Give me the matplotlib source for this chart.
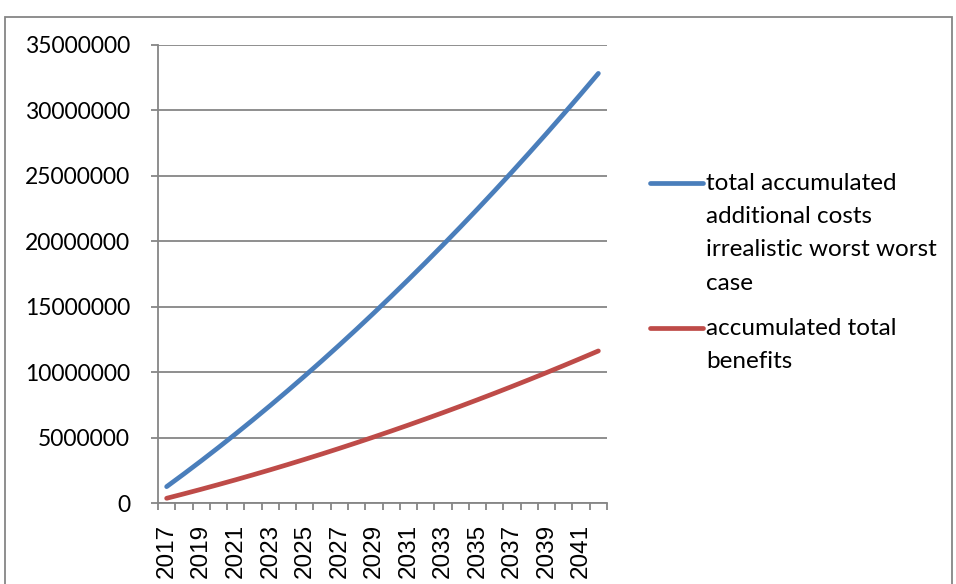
import matplotlib
matplotlib.use("Agg")
import matplotlib.pyplot as plt
from matplotlib.lines import Line2D
from matplotlib.patches import Rectangle
from matplotlib.ticker import FuncFormatter, FixedLocator

years = list(range(2017, 2043))
costs = [1250000, 2223000, 3220000, 4242000, 5287000, 6357000, 7451000, 8570000,
         9712000, 10879000, 12069000, 13284000, 14523000, 15786000, 17073000, 18384000,
         19720000, 21080000, 22464000, 23872000, 25304000, 26761000, 28242000, 29747000,
         31276000, 32830000]
benefits = [360000, 700000, 1049000, 1408000, 1775000, 2152000, 2538000, 2933000,
            3338000, 3751000, 4174000, 4606000, 5047000, 5498000, 5957000, 6426000,
            6904000, 7391000, 7888000, 8393000, 8908000, 9432000, 9965000, 10508000,
            11060000, 11620000]
series_names = ["total accumulated\nadditional costs\nirrealistic worst worst\ncase",
                "accumulated total\nbenefits"]
y_ticks = [0, 5000000, 10000000, 15000000, 20000000, 25000000, 30000000, 35000000]

BLUE = "#4A7EBB"
RED = "#BE4B48"
GRAY = "#868686"

W, H = 956, 584
fig = plt.figure(figsize=(W / 100, H / 100), dpi=100)

# outer chart-area border
fig.add_artist(Rectangle((4.5 / W, -0.05), (952 - 4.5) / W, 1.05 - 16.5 / H,
                         transform=fig.transFigure, fill=False,
                         edgecolor=GRAY, linewidth=1.3))

ax = fig.add_axes([158 / W, 1 - 503 / H, (607 - 158) / W, (503 - 45) / H])

x = list(range(len(years)))
ax.plot(x, costs, color=BLUE, linewidth=3.4, solid_capstyle="round")
ax.plot(x, benefits, color=RED, linewidth=3.4, solid_capstyle="round")

ax.set_xlim(-0.5, len(years) - 0.5)
ax.set_ylim(0, 35000000)
ax.set_yticks(y_ticks)
ax.yaxis.set_major_formatter(FuncFormatter(lambda v, p: f"{v:.0f}"))
ax.grid(axis="y", color=GRAY, linewidth=1.3)
ax.set_axisbelow(True)

# x: labels every other year at centers, tick marks at category boundaries
label_pos = [i for i in x if i % 2 == 0]
ax.xaxis.set_major_locator(FixedLocator(label_pos))
ax.set_xticklabels([str(years[i]) for i in label_pos], rotation=90,
                   fontfamily="Liberation Sans", fontsize=17.5)
ax.xaxis.set_minor_locator(FixedLocator([i - 0.5 for i in range(len(years) + 1)]))
ax.tick_params(axis="x", which="major", length=0, pad=15)
ax.tick_params(axis="x", which="minor", length=5, width=1.3, color=GRAY)
ax.tick_params(axis="y", which="major", length=5, width=1.3, color=GRAY, pad=15)
for lab in ax.get_yticklabels():
    lab.set_fontfamily("Lato")
    lab.set_fontsize(16.5)

for s in ["top", "right"]:
    ax.spines[s].set_visible(False)
for s in ["left", "bottom"]:
    ax.spines[s].set_color(GRAY)
    ax.spines[s].set_linewidth(1.3)

# legend (manual, Excel-style: handle aligned with first text line)
legend_rows = [(183, BLUE, series_names[0]), (328, RED, series_names[1])]
for ypix, col, txt in legend_rows:
    yf = 1 - ypix / H
    fig.add_artist(Line2D([650 / W, 703 / W], [yf, yf], transform=fig.transFigure,
                          color=col, linewidth=3.4, solid_capstyle="round"))
    fig.text(706 / W, yf + 10 / H, txt, ha="left", va="top", fontfamily="Lato",
             fontsize=17.5, linespacing=1.72)

fig.savefig("out.png", dpi=100)
